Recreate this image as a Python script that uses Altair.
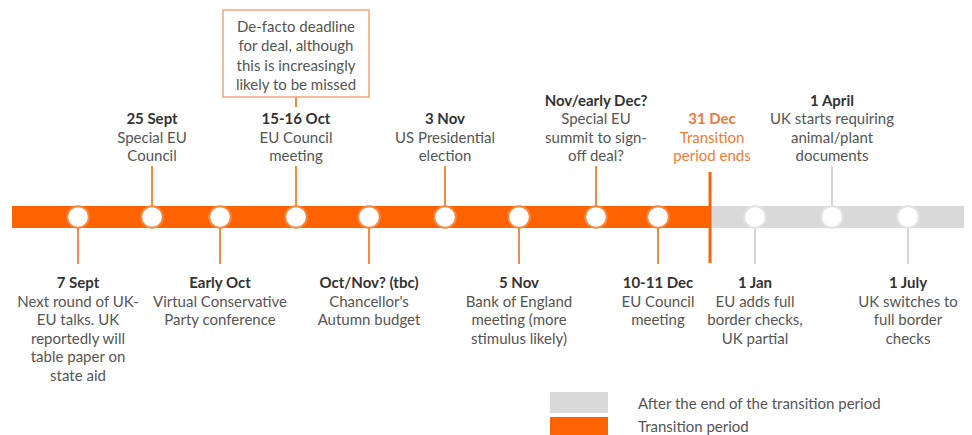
import altair as alt
import pandas as pd

# ---------------- data ----------------
events = ["7 Sept", "25 Sept", "Early Oct", "15-16 Oct", "Oct/Nov? (tbc)", "3 Nov",
          "5 Nov", "Nov/early Dec?", "10-11 Dec", "1 Jan", "1 April", "1 July"]
positions = [78, 152, 220, 296, 369, 445, 519, 596, 658, 755, 832, 908]
sides = ["below", "above", "below", "above", "below", "above",
         "below", "above", "below", "below", "above", "below"]
periods = ["Transition period"] * 9 + ["After the end of the transition period"] * 3
descriptions = [
    ["Next round of UK-", "EU talks. UK", "reportedly will", "table paper on", "state aid"],
    ["Special EU", "Council"],
    ["Virtual Conservative", "Party conference"],
    ["EU Council", "meeting"],
    ["Chancellor's", "Autumn budget"],
    ["US Presidential", "election"],
    ["Bank of England", "meeting (more", "stimulus likely)"],
    ["Special EU", "summit to sign-", "off deal?"],
    ["EU Council", "meeting"],
    ["EU adds full", "border checks,", "UK partial"],
    ["UK starts requiring", "animal/plant", "documents"],
    ["UK switches to", "full border", "checks"],
]

end_label = "31 Dec"
end_position = 710
end_description = ["Transition", "period ends"]

note_event = "15-16 Oct"
note_lines = ["De-facto deadline", "for deal, although", "this is increasingly", "likely to be missed"]

band_periods = ["Transition period", "After the end of the transition period"]
band_start = [12, 710]
band_end = [710, 965]

legend_labels = ["After the end of the transition period", "Transition period"]

ORANGE = "#FF6200"
GREY = "#D9D9D9"

# ---------------- layout (screen pixels) ----------------
W, H = 956, 427
BAND_TOP, BAND_BOT = 206, 228
BAND_MID = (BAND_TOP + BAND_BOT) / 2
LH = 18.5
ABOVE_LAST = 156
BELOW_FIRST = 283
STEM_ABOVE = 166
STEM_BELOW = 264
FONT = "Lato"
FS = 15

xs = alt.Scale(domain=[8, 8 + W], nice=False, zero=False)
ys = alt.Scale(domain=[8 + H, 8], nice=False, zero=False)

# band
band_df = pd.DataFrame({"period": band_periods, "start": band_start, "end": band_end,
                        "y1": BAND_TOP, "y2": BAND_BOT})
band = alt.Chart(band_df).mark_rect().encode(
    x=alt.X("start:Q", scale=xs, axis=None), x2="end:Q",
    y=alt.Y("y1:Q", scale=ys, axis=None), y2="y2:Q",
    color=alt.Color("period:N", scale=alt.Scale(domain=band_periods, range=[ORANGE, GREY]), legend=None),
)

# stems
ev = pd.DataFrame({"event": events, "pos": positions, "side": sides, "period": periods})
ev["top"] = [STEM_ABOVE if s == "above" else BAND_MID for s in sides]
ev["bot"] = [BAND_MID if s == "above" else STEM_BELOW for s in sides]
note_pos = positions[events.index(note_event)]
note_stem = pd.DataFrame({"event": [note_event], "pos": [note_pos], "side": ["above"],
                          "period": ["Transition period"], "top": [97], "bot": [107]})
stem_df = pd.concat([ev, note_stem], ignore_index=True)
stems = alt.Chart(stem_df).mark_rule(strokeWidth=2).encode(
    x=alt.X("pos:Q", scale=xs, axis=None),
    y=alt.Y("top:Q", scale=ys, axis=None), y2="bot:Q",
    color=alt.Color("period:N", scale=alt.Scale(domain=band_periods, range=["#F58A45", "#D6D6D6"]), legend=None),
)

# end marker
end_df = pd.DataFrame({"pos": [end_position], "top": [172], "bot": [263]})
end_rule = alt.Chart(end_df).mark_rule(strokeWidth=3, color=ORANGE).encode(
    x=alt.X("pos:Q", scale=xs, axis=None),
    y=alt.Y("top:Q", scale=ys, axis=None), y2="bot:Q",
)

# circles
ev["mid"] = BAND_MID
circles = alt.Chart(ev).mark_point(shape="circle", filled=True, fill="white", size=470,
                                    strokeWidth=2, opacity=1).encode(
    x=alt.X("pos:Q", scale=xs, axis=None),
    y=alt.Y("mid:Q", scale=ys, axis=None),
    stroke=alt.Stroke("period:N", scale=alt.Scale(domain=band_periods, range=["#F5893F", "#E3E3E3"]), legend=None),
)

# note box
box_df = pd.DataFrame({"x1": [note_pos - 73], "x2": [note_pos + 73], "y1": [10], "y2": [97]})
box = alt.Chart(box_df).mark_rect(fill="white", stroke="#F3A77A", strokeWidth=1.5).encode(
    x=alt.X("x1:Q", scale=xs, axis=None), x2="x2:Q",
    y=alt.Y("y1:Q", scale=ys, axis=None), y2="y2:Q",
)

# text rows
rows = []
for e, p, s, d in zip(events, positions, sides, descriptions):
    lines = [e] + d
    n = len(lines)
    for i, t in enumerate(lines):
        y = ABOVE_LAST - (n - 1 - i) * LH if s == "above" else BELOW_FIRST + i * LH
        rows.append({"t": t, "x": p, "y": y, "kind": "title" if i == 0 else "desc"})
lines = [end_label] + end_description
for i, t in enumerate(lines):
    rows.append({"t": t, "x": end_position + 2, "y": ABOVE_LAST - (len(lines) - 1 - i) * LH,
                 "kind": "end_title" if i == 0 else "end_desc"})
for i, t in enumerate(note_lines):
    rows.append({"t": t, "x": note_pos, "y": 27 + i * 19.3, "kind": "desc"})
txt = pd.DataFrame(rows)

kinds = ["title", "desc", "end_title", "end_desc"]
kcolors = ["#333333", "#555555", "#F27A35", "#F27A35"]
tenc = dict(x=alt.X("x:Q", scale=xs, axis=None), y=alt.Y("y:Q", scale=ys, axis=None), text="t:N",
            color=alt.Color("kind:N", scale=alt.Scale(domain=kinds, range=kcolors), legend=None))
titles = alt.Chart(txt[txt["kind"].isin(["title", "end_title"])]).mark_text(
    font=FONT, fontSize=FS, fontWeight="bold", baseline="middle", align="center").encode(**tenc)
descs = alt.Chart(txt[txt["kind"].isin(["desc", "end_desc"])]).mark_text(
    font=FONT, fontSize=FS, baseline="middle", align="center").encode(**tenc)

# legend
leg_df = pd.DataFrame({"label": legend_labels, "period": legend_labels,
                       "x1": 550, "x2": 608, "y1": [392, 417], "y2": [413, 438],
                       "tx": 638, "ty": [404, 427]})
leg_rect = alt.Chart(leg_df).mark_rect().encode(
    x=alt.X("x1:Q", scale=xs, axis=None), x2="x2:Q",
    y=alt.Y("y1:Q", scale=ys, axis=None), y2="y2:Q",
    color=alt.Color("period:N", scale=alt.Scale(domain=band_periods, range=[ORANGE, GREY]), legend=None),
)
leg_text = alt.Chart(leg_df).mark_text(font=FONT, fontSize=FS, align="left", baseline="middle",
                                       color="#555555").encode(
    x=alt.X("tx:Q", scale=xs, axis=None), y=alt.Y("ty:Q", scale=ys, axis=None), text="label:N")

chart = alt.layer(band, stems, end_rule, circles, box, titles, descs, leg_rect, leg_text).resolve_scale(
    color="independent"
).properties(
    width=W, height=H, padding=0,
    autosize=alt.AutoSizeParams(type="none"),
).configure_view(stroke=None)

chart.save("out.html", embed_options={"renderer": "svg", "actions": False})
